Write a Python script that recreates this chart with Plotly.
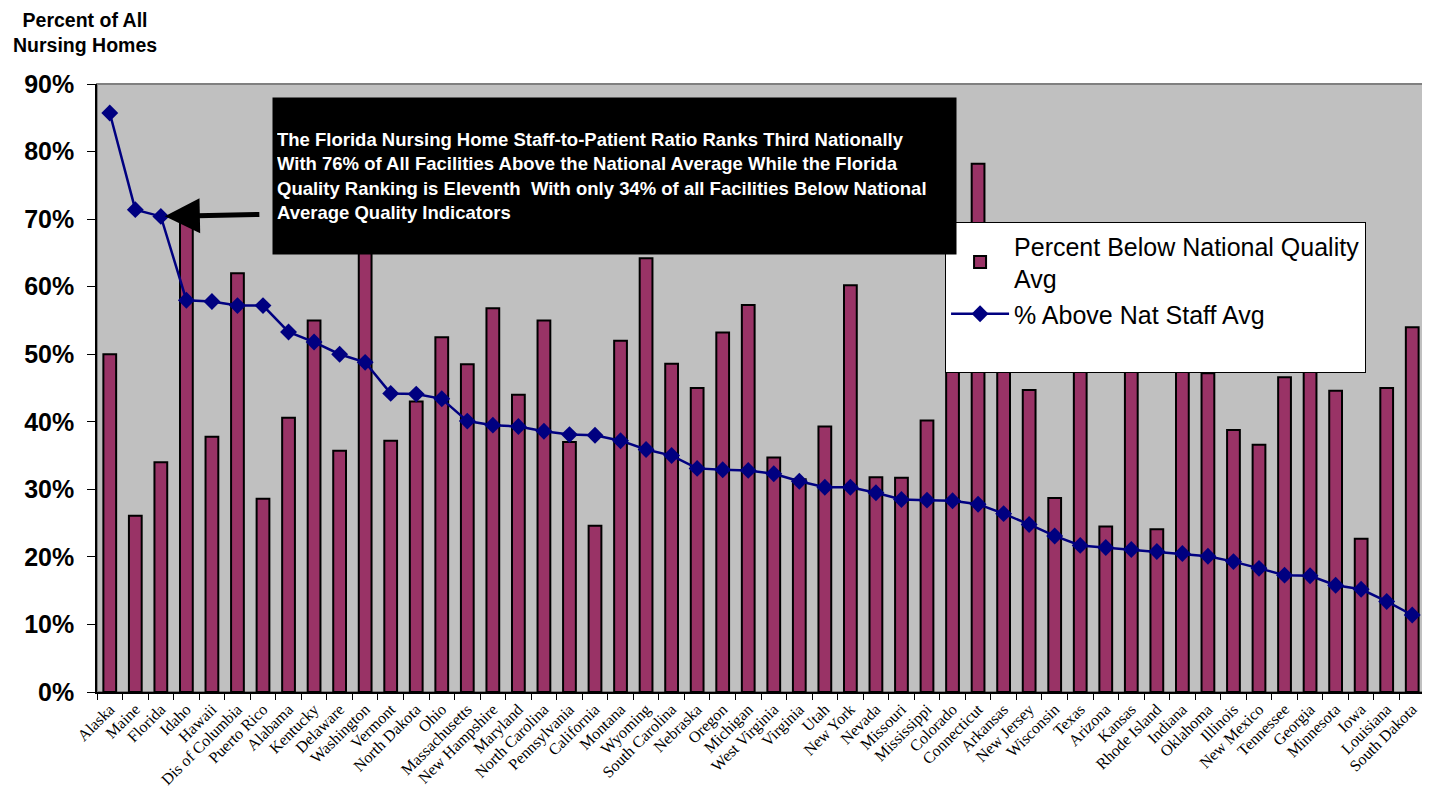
import plotly.graph_objects as go

states = ["Alaska", "Maine", "Florida", "Idaho", "Hawaii", "Dis of Columbia", "Puerto Rico",
          "Alabama", "Kentucky", "Delaware", "Washington", "Vermont", "North Dakota", "Ohio",
          "Massachusetts", "New Hampshire", "Maryland", "North Carolina", "Pennsylvania",
          "California", "Montana", "Wyoming", "South Carolina", "Nebraska", "Oregon", "Michigan",
          "West Virginia", "Virginia", "Utah", "New York", "Nevada", "Missouri", "Mississippi",
          "Colorado", "Connecticut", "Arkansas", "New Jersey", "Wisconsin", "Texas", "Arizona",
          "Kansas", "Rhode Island", "Indiana", "Oklahoma", "Illinois", "New Mexico", "Tennessee",
          "Georgia", "Minnesota", "Iowa", "Louisiana", "South Dakota"]

below_quality = [50.0, 26.1, 34.0, 71.0, 37.8, 62.0, 28.6, 40.6, 55.0, 35.7, 70.0, 37.2, 43.0, 52.5,
                 48.5, 56.8, 44.0, 55.0, 37.0, 24.6, 52.0, 64.2, 48.6, 45.0, 53.2, 57.3, 34.7, 31.5,
                 39.3, 60.2, 31.8, 31.7, 40.2, 55.0, 78.2, 52.0, 44.7, 28.7, 48.0, 24.5, 51.0, 24.1,
                 50.5, 47.2, 38.8, 36.6, 46.6, 48.6, 44.6, 22.7, 45.0, 54.0]

above_staff = [85.7, 71.4, 70.4, 58.0, 57.8, 57.2, 57.2, 53.3, 51.8, 50.0, 48.8, 44.2, 44.1, 43.4,
               40.1, 39.5, 39.3, 38.6, 38.1, 38.0, 37.2, 35.9, 35.0, 33.1, 32.9, 32.8, 32.3, 31.2,
               30.3, 30.3, 29.5, 28.5, 28.4, 28.3, 27.8, 26.4, 24.8, 23.1, 21.7, 21.4, 21.1, 20.8,
               20.5, 20.1, 19.3, 18.3, 17.3, 17.2, 15.8, 15.2, 13.4, 11.4]

y_ticks = [0, 10, 20, 30, 40, 50, 60, 70, 80, 90]
y_tick_labels = [f"{v}%" for v in y_ticks]

fig = go.Figure()
fig.add_trace(go.Bar(
    x=states, y=below_quality,
    name="Percent Below National Quality<br>Avg",
    marker=dict(color="#993366", line=dict(color="black", width=2)),
))
fig.add_trace(go.Scatter(
    x=states, y=above_staff, mode="lines+markers",
    name="% Above Nat Staff Avg",
    line=dict(color="#000080", width=2.5),
    marker=dict(symbol="diamond", size=13, color="#000080"),
))
# empty legend row to reproduce the blank space at the bottom of the legend box
fig.add_trace(go.Scatter(
    x=[states[0]], y=[None], mode="lines", name=" ",
    line=dict(color="rgba(0,0,0,0)", width=0), hoverinfo="skip",
))

sans = "Liberation Sans, Arial, sans-serif"

# page body has an 8px margin: size the figure so the plot area lands where the reference has it
fig.update_layout(
    width=1422, height=785,
    margin=dict(l=89, r=5, t=76, b=101),
    paper_bgcolor="white",
    plot_bgcolor="#C0C0C0",
    bargap=0.5,
    showlegend=True,
    legend=dict(
        x=0.6386, y=0.773, xanchor="left", yanchor="top",
        bgcolor="white", bordercolor="black", borderwidth=1,
        font=dict(family=sans, size=25, color="black"),
        itemwidth=58,
    ),
    xaxis=dict(
        type="category", automargin=False,
        tickangle=-45,
        tickfont=dict(family="Liberation Serif, Times New Roman, serif", size=16, color="black"),
        ticks="outside", ticklen=6, tickcolor="black", tickson="boundaries",
        showline=True, linecolor="black", linewidth=1.5,
        showgrid=False, range=[-0.5, 51.5],
    ),
    yaxis=dict(
        range=[0, 90], automargin=False,
        tickvals=y_ticks, ticktext=y_tick_labels,
        tickfont=dict(family=sans, size=25, color="black", weight="bold"),
        ticks="outside", ticklen=8, tickcolor="black", ticklabelstandoff=8,
        showline=True, linecolor="black", linewidth=1.5,
        showgrid=False, zeroline=False,
    ),
    shapes=[dict(type="rect", xref="paper", yref="paper", x0=0, x1=1, y0=0, y1=1,
                 line=dict(color="#808080", width=2), layer="below")],
)

fig.add_annotation(
    xref="paper", yref="paper", x=-0.009, y=1.0855, xanchor="center", yanchor="middle",
    text="<b>Percent of All<br>Nursing Homes</b>", showarrow=False,
    font=dict(family=sans, size=19.5, color="black"), align="center",
)

fig.add_annotation(
    xref="paper", yref="paper", x=0.1318, y=0.9786, xanchor="left", yanchor="top",
    width=675, height=148, borderpad=4, bgcolor="black",
    text=("<b>The Florida Nursing Home Staff-to-Patient Ratio Ranks Third Nationally<br>"
          "With 76% of All Facilities Above the National Average While the Florida<br>"
          "Quality Ranking is Eleventh  With only 34% of all Facilities Below National<br>"
          "Average Quality Indicators</b>"),
    showarrow=False, align="left", valign="middle",
    font=dict(family=sans, size=18.5, color="white"),
)

fig.add_annotation(
    x="Florida", y=70.4, xref="x", yref="y", text="",
    showarrow=True, ax=100, ay=-2, axref="pixel", ayref="pixel",
    arrowhead=2, arrowsize=1.4, arrowwidth=5, arrowcolor="black", standoff=4,
)

fig.write_html("out.html")
